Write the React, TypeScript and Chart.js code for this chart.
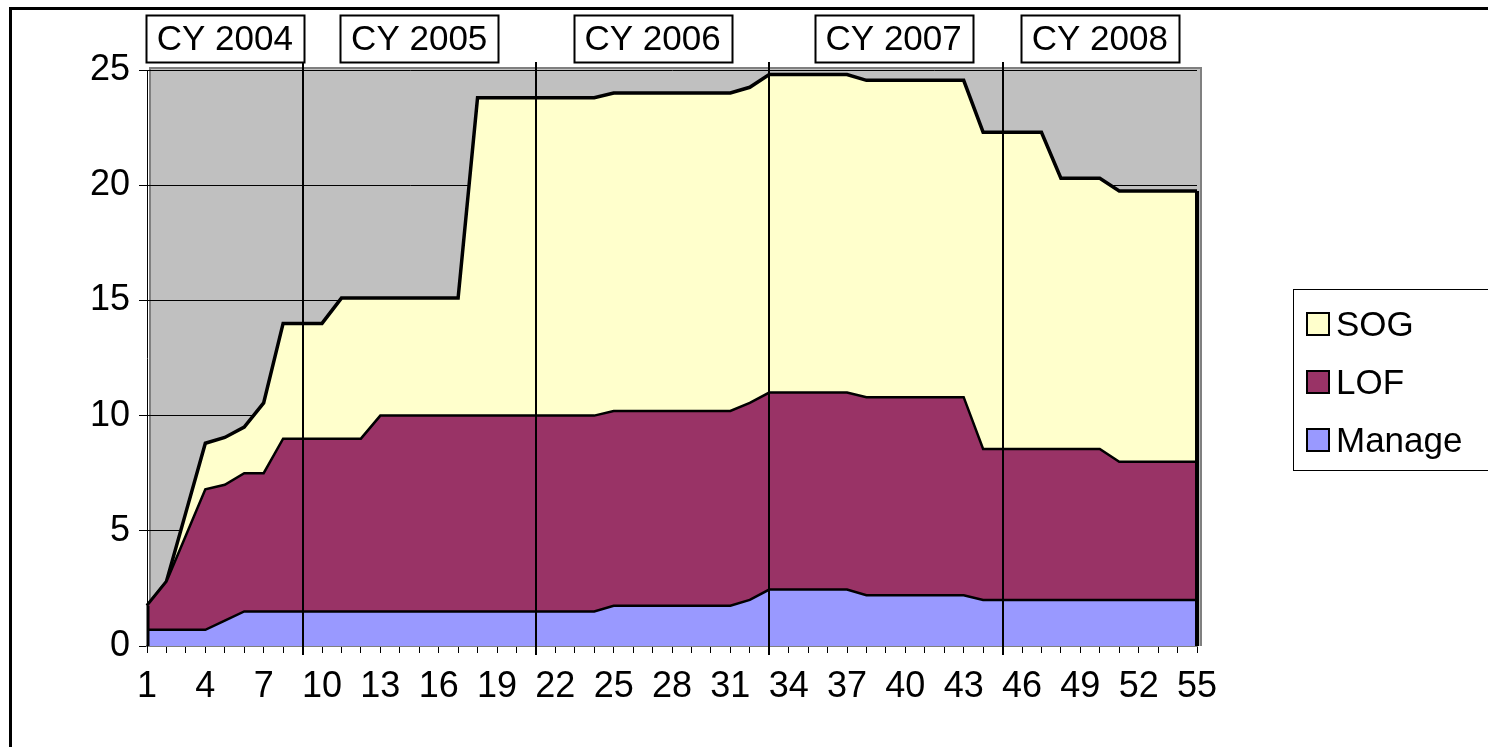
import React, { useEffect, useRef } from "react";
import { Chart, registerables } from "chart.js";

Chart.register(...registerables);

const periods = [
  "1", "2", "3", "4", "5", "6", "7", "8", "9", "10",
  "11", "12", "13", "14", "15", "16", "17", "18", "19", "20",
  "21", "22", "23", "24", "25", "26", "27", "28", "29", "30",
  "31", "32", "33", "34", "35", "36", "37", "38", "39", "40",
  "41", "42", "43", "44", "45", "46", "47", "48", "49", "50",
  "51", "52", "53", "54", "55",
];

const manage = [
  0.7, 0.7, 0.7, 0.7, 1.1, 1.5, 1.5, 1.5, 1.5, 1.5,
  1.5, 1.5, 1.5, 1.5, 1.5, 1.5, 1.5, 1.5, 1.5, 1.5,
  1.5, 1.5, 1.5, 1.5, 1.75, 1.75, 1.75, 1.75, 1.75, 1.75,
  1.75, 2.0, 2.45, 2.45, 2.45, 2.45, 2.45, 2.2, 2.2, 2.2,
  2.2, 2.2, 2.2, 2.0, 2.0, 2.0, 2.0, 2.0, 2.0, 2.0,
  2.0, 2.0, 2.0, 2.0, 2.0,
];

const lof = [
  1.05, 2.1, 4.1, 6.1, 5.9, 6.0, 6.0, 7.5, 7.5, 7.5,
  7.5, 7.5, 8.5, 8.5, 8.5, 8.5, 8.5, 8.5, 8.5, 8.5,
  8.5, 8.5, 8.5, 8.5, 8.45, 8.45, 8.45, 8.45, 8.45, 8.45,
  8.45, 8.55, 8.55, 8.55, 8.55, 8.55, 8.55, 8.6, 8.6, 8.6,
  8.6, 8.6, 8.6, 6.55, 6.55, 6.55, 6.55, 6.55, 6.55, 6.55,
  6.0, 6.0, 6.0, 6.0, 6.0,
];

const sog = [
  0, 0, 1.0, 2.0, 2.05, 2.0, 3.05, 5.0, 5.0, 5.0,
  6.1, 6.1, 5.1, 5.1, 5.1, 5.1, 5.1, 13.8, 13.8, 13.8,
  13.8, 13.8, 13.8, 13.8, 13.8, 13.8, 13.8, 13.8, 13.8, 13.8,
  13.8, 13.7, 13.8, 13.8, 13.8, 13.8, 13.8, 13.75, 13.75, 13.75,
  13.75, 13.75, 13.75, 13.75, 13.75, 13.75, 13.75, 11.75, 11.75, 11.75,
  11.75, 11.75, 11.75, 11.75, 11.75,
];

const seriesNames = ["Manage", "LOF", "SOG"];
const seriesColors = ["#9999FF", "#993366", "#FFFFCC"];

const yearLabels = ["CY 2004", "CY 2005", "CY 2006", "CY 2007", "CY 2008"];
const yearLabelCenters = [4, 14, 26, 38.4, 49];
const yearBoundaries = [8, 20, 32, 44];

const FONT = "'Liberation Sans', Arial, sans-serif";

const decorPlugin = {
  id: "decor",
  beforeDraw(chart: any) {
    const { ctx, chartArea } = chart;
    ctx.save();
    ctx.fillStyle = "#ffffff";
    ctx.fillRect(0, 0, chart.width, chart.height);
    const l = chartArea.left + 3;
    const t = chartArea.top - 2;
    const r = chartArea.right + 4;
    const b = chartArea.bottom;
    ctx.fillStyle = "#C0C0C0";
    ctx.fillRect(l, t, r - l, b - t);
    ctx.strokeStyle = "#808080";
    ctx.lineWidth = 2;
    ctx.beginPath();
    ctx.moveTo(l, b);
    ctx.lineTo(l, t);
    ctx.lineTo(r, t);
    ctx.lineTo(r, b);
    ctx.stroke();
    ctx.restore();
  },
  afterDatasetsDraw(chart: any) {
    const { ctx, chartArea } = chart;
    const xs = chart.scales.x;
    const ys = chart.scales.y;
    ctx.save();
    // vertical edges of the stacked area
    const n = periods.length;
    const totalFirst = manage[0] + lof[0] + sog[0];
    const totalLast = manage[n - 1] + lof[n - 1] + sog[n - 1];
    ctx.strokeStyle = "#000";
    ctx.lineWidth = 3;
    ctx.beginPath();
    ctx.moveTo(xs.getPixelForValue(0) + 1, ys.getPixelForValue(0));
    ctx.lineTo(xs.getPixelForValue(0) + 1, ys.getPixelForValue(totalFirst));
    ctx.stroke();
    ctx.lineWidth = 4;
    ctx.beginPath();
    ctx.moveTo(xs.getPixelForValue(n - 1), ys.getPixelForValue(0));
    ctx.lineTo(xs.getPixelForValue(n - 1), ys.getPixelForValue(totalLast));
    ctx.stroke();

    // year boundary lines
    ctx.lineWidth = 2;
    yearBoundaries.forEach((idx) => {
      const x = Math.round(xs.getPixelForValue(idx));
      ctx.beginPath();
      ctx.moveTo(x, 62);
      ctx.lineTo(x, chartArea.bottom + 9);
      ctx.stroke();
    });

    // year labels
    ctx.font = `35px ${FONT}`;
    ctx.textAlign = "center";
    ctx.textBaseline = "middle";
    yearLabels.forEach((txt, i) => {
      const cx = xs.getPixelForValue(yearLabelCenters[i]);
      const w = 158;
      const h = 47;
      const top = 15;
      ctx.fillStyle = "#fff";
      ctx.fillRect(cx - w / 2, top, w, h);
      ctx.strokeStyle = "#000";
      ctx.lineWidth = 2;
      ctx.strokeRect(Math.round(cx - w / 2) + 0.5, top + 0.5, w, h);
      ctx.fillStyle = "#000";
      ctx.fillText(txt, cx, top + h / 2 + 2);
    });

    // legend
    const lx = 1293;
    const ly = 289;
    ctx.fillStyle = "#fff";
    ctx.fillRect(lx, ly, 300, 181);
    ctx.strokeStyle = "#000";
    ctx.lineWidth = 1;
    ctx.strokeRect(lx + 0.5, ly + 0.5, 300, 181);
    const ds = chart.data.datasets;
    const rowsY = [324, 382, 440];
    ctx.font = `35px ${FONT}`;
    ctx.textAlign = "left";
    ctx.textBaseline = "middle";
    for (let k = 0; k < ds.length; k++) {
      const d = ds[ds.length - 1 - k];
      const cy = rowsY[k];
      ctx.fillStyle = d.backgroundColor;
      ctx.fillRect(1307, cy - 11, 22, 22);
      ctx.strokeStyle = "#000";
      ctx.lineWidth = 2;
      ctx.strokeRect(1307, cy - 11, 22, 22);
      ctx.fillStyle = "#000";
      ctx.fillText(d.label, 1336, cy + 2);
    }

    // page border
    ctx.strokeStyle = "#000";
    ctx.lineWidth = 3;
    ctx.strokeRect(10.5, 8.5, 2000, 2000);
    ctx.restore();
  },
};

export default function App() {
  const ref = useRef<HTMLCanvasElement | null>(null);
  useEffect(() => {
    if (!ref.current) return;
    const data = [manage, lof, sog];
    const chart = new Chart(ref.current, {
      type: "line",
      data: {
        labels: periods,
        datasets: data.map((vals, i) => ({
          label: seriesNames[i],
          data: vals,
          backgroundColor: seriesColors[i],
          borderColor: "#000",
          borderWidth: i === 2 ? 3.5 : 2.5,
          fill: i === 0 ? "origin" : "-1",
          pointRadius: 0,
          tension: 0,
        })),
      },
      options: {
        responsive: false,
        animation: false,
        layout: { padding: { left: 0, top: 70, right: 291, bottom: 0 } },
        plugins: {
          legend: { display: false },
          tooltip: { enabled: false },
        },
        scales: {
          x: {
            type: "category",
            offset: false,
            afterFit: (s: any) => {
              s.height = 101;
            },
            grid: {
              drawOnChartArea: false,
              drawTicks: true,
              tickLength: 7,
              color: "#000",
              tickColor: "#000",
            },
            border: { color: "#808080", width: 2 },
            ticks: {
              autoSkip: false,
              maxRotation: 0,
              minRotation: 0,
              padding: 12,
              color: "#000",
              font: { family: FONT, size: 36 },
              callback: function (this: any, val: any, idx: number) {
                return idx % 3 === 0 ? this.getLabelForValue(val) : "";
              },
            },
          },
          y: {
            stacked: true,
            min: 0,
            max: 25,
            afterFit: (s: any) => {
              s.width = 147;
            },
            grid: {
              color: "#000",
              lineWidth: 1,
              tickLength: 8,
              tickColor: "#000",
            },
            border: { color: "#000", width: 1 },
            ticks: {
              stepSize: 5,
              padding: 9,
              color: "#000",
              font: { family: FONT, size: 36 },
            },
          },
        },
      },
      plugins: [decorPlugin],
    });
    return () => chart.destroy();
  }, []);
  return (
    <div style={{ position: "fixed", left: 0, top: 0, width: 1488, height: 747 }}>
      <canvas ref={ref} width={1488} height={747} style={{ display: "block" }} />
    </div>
  );
}
